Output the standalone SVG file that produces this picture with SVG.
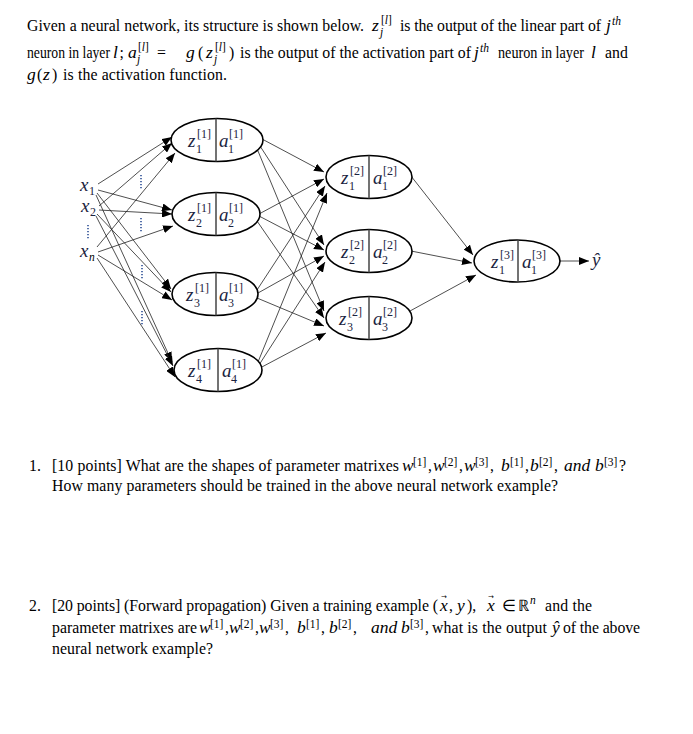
<svg xmlns="http://www.w3.org/2000/svg" width="693" height="734" viewBox="0 0 693 734">
<defs>
<marker id="ah" markerUnits="userSpaceOnUse" markerWidth="11" markerHeight="8" refX="10" refY="4" orient="auto">
<path d="M0,0 L10,4 L0,8 z" fill="#000"/>
</marker>
<style>
.t{font-family:"Liberation Serif","Times New Roman",serif;font-size:15.8px;fill:#000}
.m{font-family:"Liberation Serif","Times New Roman",serif;font-style:italic;font-size:17.5px;fill:#000}
.s{font-family:"Liberation Serif","Times New Roman",serif;font-size:11.5px;fill:#000}
.si{font-family:"Liberation Serif","Times New Roman",serif;font-style:italic;font-size:11.5px;fill:#000}
.ar{font-family:"DejaVu Sans",sans-serif;font-size:7px;fill:#000}
.nm{font-family:"Liberation Serif","Times New Roman",serif;font-style:italic;font-size:19px;fill:#1a2340}
.ns{font-family:"Liberation Serif","Times New Roman",serif;font-size:12px;fill:#1a2340}
.el{fill:#fff;stroke:#000;stroke-width:1.6}
.dv{stroke:#444;stroke-width:1.5}
.c line{stroke:#222;stroke-width:0.8;marker-end:url(#ah)}
.dot{stroke:#2d4f96;stroke-width:1.6;stroke-dasharray:1.2 1.8}
</style>
</defs>

<!-- Intro text -->
<g id="intro">
<text class="t" x="27" y="31" textLength="337" lengthAdjust="spacing">Given a neural network, its structure is shown below.</text>
<text class="m" x="372" y="31">z</text><text class="s" x="381" y="24">[<tspan font-style="italic">l</tspan>]</text><text class="si" x="380" y="36">j</text>
<text class="t" x="400" y="31" textLength="201" lengthAdjust="spacing">is the output of the linear part of</text>
<text class="m" x="606" y="31">j</text><text class="si" x="612" y="25">th</text>

<text class="t" x="27" y="58" textLength="83" lengthAdjust="spacingAndGlyphs">neuron in layer</text>
<text class="m" x="113" y="58">l</text><text class="t" x="119.5" y="58">;</text>
<text class="m" x="128" y="58">a</text><text class="s" x="138" y="51">[<tspan font-style="italic">l</tspan>]</text><text class="si" x="137" y="63">j</text>
<text class="t" x="157" y="58">=</text>
<text class="m" x="186" y="58">g</text><text class="t" x="198" y="58">(</text>
<text class="m" x="206" y="58">z</text><text class="s" x="215" y="51">[<tspan font-style="italic">l</tspan>]</text><text class="si" x="214" y="63">j</text>
<text class="t" x="229" y="58">)</text>
<text class="t" x="240" y="58" textLength="231" lengthAdjust="spacingAndGlyphs">is the output of the activation part of</text>
<text class="m" x="474" y="58">j</text><text class="si" x="480" y="52">th</text>
<text class="t" x="498" y="58" textLength="86" lengthAdjust="spacingAndGlyphs">neuron in layer</text>
<text class="m" x="591" y="58">l</text>
<text class="t" x="605" y="58">and</text>

<text class="m" x="27" y="80">g</text><text class="t" x="37" y="80">(</text><text class="m" x="43" y="80">z</text><text class="t" x="52" y="80">)</text>
<text class="t" x="63" y="80" textLength="164" lengthAdjust="spacing">is the activation function.</text>
</g>

<!-- Inputs -->
<g id="inputs">
<text class="nm" x="80" y="191">x</text><text class="ns" x="89" y="195">1</text>
<text class="nm" x="81" y="212">x</text><text class="ns" x="90" y="216">2</text>
<line class="dot" x1="88" y1="225" x2="88" y2="239"/>
<text class="nm" x="80" y="257">x</text><text class="si" x="89" y="261" font-size="12px">n</text>
<line class="dot" x1="141" y1="175" x2="141" y2="190"/>
<line class="dot" x1="141" y1="218" x2="141" y2="232"/>
<line class="dot" x1="142" y1="265" x2="142" y2="280"/>
<line class="dot" x1="142" y1="311" x2="142" y2="326"/>
</g>

<!-- Connectors -->
<g id="connectors" class="c">
<line x1="98" y1="184" x2="172" y2="137"/>
<line x1="98" y1="190" x2="172" y2="210"/>
<line x1="97" y1="193" x2="171" y2="289"/>
<line x1="96" y1="195" x2="172" y2="362"/>
<line x1="99" y1="206" x2="172" y2="143"/>
<line x1="99" y1="210" x2="172" y2="214"/>
<line x1="97" y1="214" x2="171" y2="292"/>
<line x1="96" y1="216" x2="173" y2="366"/>
<line x1="97" y1="247" x2="175" y2="153"/>
<line x1="98" y1="252" x2="173" y2="226"/>
<line x1="98" y1="255" x2="172" y2="300"/>
<line x1="97" y1="258" x2="175" y2="377"/>
<line x1="262" y1="139" x2="324" y2="172"/>
<line x1="260" y1="146" x2="324" y2="245"/>
<line x1="258" y1="151" x2="324" y2="311"/>
<line x1="259" y1="214" x2="324" y2="179"/>
<line x1="259" y1="216" x2="324" y2="250"/>
<line x1="257" y1="221" x2="324" y2="318"/>
<line x1="257" y1="290" x2="325" y2="186"/>
<line x1="258" y1="293" x2="324" y2="256"/>
<line x1="257" y1="298" x2="324" y2="326"/>
<line x1="258" y1="362" x2="327" y2="193"/>
<line x1="259" y1="365" x2="325" y2="262"/>
<line x1="260" y1="368" x2="326" y2="333"/>
<line x1="411" y1="176" x2="473" y2="255"/>
<line x1="411" y1="251" x2="472" y2="263"/>
<line x1="410" y1="311" x2="476" y2="275"/>
<line x1="560" y1="261" x2="589" y2="261"/>
</g>

<!-- Layer 1 -->
<g id="n11"><ellipse class="el" cx="217" cy="140" rx="46" ry="21.5"/><line class="dv" x1="216" y1="118.5" x2="216" y2="161.5"/>
<text class="nm" x="188" y="147">z</text><text class="ns" x="197" y="138">[1]</text><text class="ns" x="196" y="153">1</text>
<text class="nm" x="219" y="147">a</text><text class="ns" x="229" y="138">[1]</text><text class="ns" x="228" y="153">1</text></g>
<g id="n12"><ellipse class="el" cx="216" cy="214" rx="44" ry="21.5"/><line class="dv" x1="216" y1="192.5" x2="216" y2="235.5"/>
<text class="nm" x="188" y="221">z</text><text class="ns" x="197" y="212">[1]</text><text class="ns" x="196" y="227">2</text>
<text class="nm" x="219" y="221">a</text><text class="ns" x="229" y="212">[1]</text><text class="ns" x="228" y="227">2</text></g>
<g id="n13"><ellipse class="el" cx="215" cy="294" rx="43" ry="21.5"/><line class="dv" x1="216" y1="272.5" x2="216" y2="315.5"/>
<text class="nm" x="186" y="301">z</text><text class="ns" x="195" y="292">[1]</text><text class="ns" x="194" y="307">3</text>
<text class="nm" x="219" y="301">a</text><text class="ns" x="229" y="292">[1]</text><text class="ns" x="228" y="307">3</text></g>
<g id="n14"><ellipse class="el" cx="218" cy="370" rx="44" ry="21.5"/><line class="dv" x1="218" y1="348.5" x2="218" y2="391.5"/>
<text class="nm" x="188" y="377">z</text><text class="ns" x="197" y="368">[1]</text><text class="ns" x="196" y="383">4</text>
<text class="nm" x="222" y="377">a</text><text class="ns" x="232" y="368">[1]</text><text class="ns" x="231" y="383">4</text></g>

<!-- Layer 2 -->
<g id="n21"><ellipse class="el" cx="369" cy="177" rx="43" ry="21.5"/><line class="dv" x1="369" y1="155.5" x2="369" y2="198.5"/>
<text class="nm" x="341" y="184">z</text><text class="ns" x="350" y="175">[2]</text><text class="ns" x="349" y="190">1</text>
<text class="nm" x="373" y="184">a</text><text class="ns" x="383" y="175">[2]</text><text class="ns" x="382" y="190">1</text></g>
<g id="n22"><ellipse class="el" cx="369" cy="251" rx="43" ry="21.5"/><line class="dv" x1="369" y1="229.5" x2="369" y2="272.5"/>
<text class="nm" x="341" y="258">z</text><text class="ns" x="350" y="249">[2]</text><text class="ns" x="349" y="264">2</text>
<text class="nm" x="373" y="258">a</text><text class="ns" x="383" y="249">[2]</text><text class="ns" x="382" y="264">2</text></g>
<g id="n23"><ellipse class="el" cx="369" cy="318" rx="43" ry="21.5"/><line class="dv" x1="369" y1="296.5" x2="369" y2="339.5"/>
<text class="nm" x="339" y="325">z</text><text class="ns" x="348" y="316">[2]</text><text class="ns" x="347" y="331">3</text>
<text class="nm" x="373" y="325">a</text><text class="ns" x="383" y="316">[2]</text><text class="ns" x="382" y="331">3</text></g>

<!-- Layer 3 -->
<g id="n31"><ellipse class="el" cx="517" cy="261" rx="43" ry="21"/><line class="dv" x1="518" y1="240" x2="518" y2="282"/>
<text class="nm" x="491" y="268">z</text><text class="ns" x="500" y="259">[3]</text><text class="ns" x="499" y="274">1</text>
<text class="nm" x="522" y="268">a</text><text class="ns" x="532" y="259">[3]</text><text class="ns" x="531" y="274">1</text></g>
<g id="out"><text class="nm" x="592" y="266">ŷ</text></g>

<!-- Question 1 -->
<g id="q1">
<text class="t" x="29" y="471">1.</text>
<text class="t" x="52" y="471" textLength="347" lengthAdjust="spacing">[10 points] What are the shapes of parameter matrixes</text>
<text class="m" x="402" y="471">w</text><text class="s" x="413" y="466">[1]</text><text class="t" x="428" y="471">,</text>
<text class="m" x="433" y="471">w</text><text class="s" x="444" y="466">[2]</text><text class="t" x="459" y="471">,</text>
<text class="m" x="464" y="471">w</text><text class="s" x="475" y="466">[3]</text><text class="t" x="490" y="471">,</text>
<text class="m" x="501" y="471">b</text><text class="s" x="510" y="466">[1]</text><text class="t" x="525" y="471">,</text>
<text class="m" x="530" y="471">b</text><text class="s" x="539" y="466">[2]</text><text class="t" x="554" y="471">,</text>
<text class="m" x="564" y="471">and</text>
<text class="m" x="595" y="471">b</text><text class="s" x="604" y="466">[3]</text><text class="t" x="619" y="471">?</text>
<text class="t" x="52" y="491" textLength="506" lengthAdjust="spacing">How many parameters should be trained in the above neural network example?</text>
</g>

<!-- Question 2 -->
<g id="q2">
<text class="t" x="29" y="611">2.</text>
<text class="t" x="52" y="611" textLength="386" lengthAdjust="spacing">[20 points] (Forward propagation) Given a training example (</text>
<text class="m" x="440" y="611">x</text><text class="ar" x="441" y="599">→</text><text class="t" x="449" y="611">,</text><text class="m" x="457" y="611">y</text><text class="t" x="467" y="611">),</text>
<text class="m" x="487" y="611">x</text><text class="ar" x="488" y="599">→</text>
<text class="t" x="502" y="611" font-family="DejaVu Sans" font-size="12px">∈</text>
<text class="t" x="518" y="611" font-family="DejaVu Sans" font-size="13px">ℝ</text><text class="si" x="530" y="604">n</text>
<text class="t" x="545" y="611" textLength="47" lengthAdjust="spacing">and the</text>

<text class="t" x="52" y="633" textLength="145" lengthAdjust="spacing">parameter matrixes are</text>
<text class="m" x="199" y="633">w</text><text class="s" x="210" y="628">[1]</text><text class="t" x="225" y="633">,</text>
<text class="m" x="229" y="633">w</text><text class="s" x="240" y="628">[2]</text><text class="t" x="255" y="633">,</text>
<text class="m" x="259" y="633">w</text><text class="s" x="270" y="628">[3]</text><text class="t" x="285" y="633">,</text>
<text class="m" x="297" y="633">b</text><text class="s" x="306" y="628">[1]</text><text class="t" x="321" y="633">,</text>
<text class="m" x="329" y="633">b</text><text class="s" x="338" y="628">[2]</text><text class="t" x="353" y="633">,</text>
<text class="m" x="371" y="633">and</text>
<text class="m" x="401" y="633">b</text><text class="s" x="410" y="628">[3]</text><text class="t" x="425" y="633">,</text>
<text class="t" x="432" y="633" textLength="115" lengthAdjust="spacing">what is the output</text>
<text class="m" x="552" y="633">ŷ</text>
<text class="t" x="563" y="633" textLength="77" lengthAdjust="spacing">of the above</text>
<text class="t" x="52" y="654" textLength="161" lengthAdjust="spacing">neural network example?</text>
</g>
</svg>
